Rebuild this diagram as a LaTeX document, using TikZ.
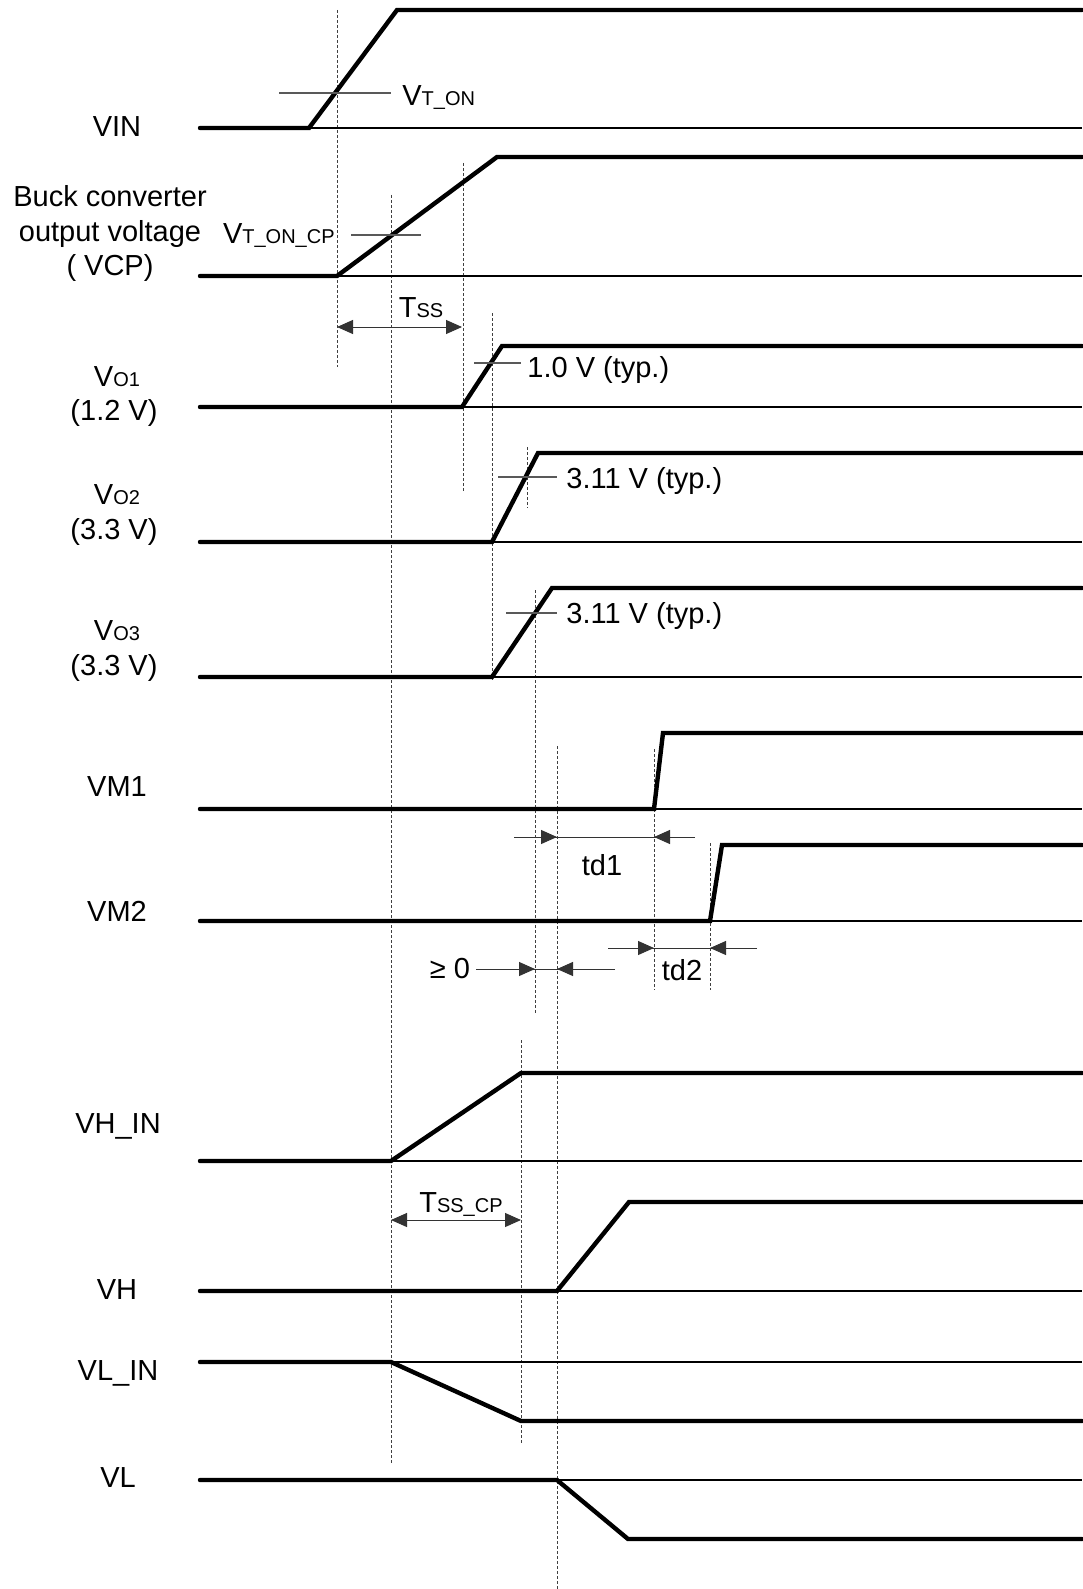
\documentclass[tikz,border=0pt]{standalone}
\usepackage{fontspec}
\setmainfont{Liberation Sans}
\usetikzlibrary{arrows.meta}

\newcommand{\sm}[1]{{\fontsize{10}{12}\selectfont #1}}

\begin{document}
\begin{tikzpicture}[x=0.5pt,y=-0.5pt,
    wave/.style={line width=2.2pt, line cap=round},
    baseln/.style={line width=0.6pt},
    guide/.style={line width=0.45pt, black!75, dash pattern=on 1.5pt off 1pt},
    level/.style={line width=0.6pt, black!65},
    dim/.style={line width=0.5pt, black!80},
    arr/.style={-{Triangle[length=8pt,width=7pt]}},
    twoway/.style={{Triangle[length=8pt,width=7pt]}-{Triangle[length=8pt,width=7pt]}},
    lbl/.style={inner sep=0pt, anchor=base, font=\fontsize{14.5}{17.5}\selectfont}]
    \useasboundingbox (0,0) rectangle (1082,1589);

    \node[lbl] (vin) at (117,137) {VIN};
    \node[lbl] (buck1) at (110,207) {Buck converter};
    \node[lbl] (buck2) at (110,242) {output voltage};
    \node[lbl] (buck3) at (110,276) {( VCP)};
    \node[lbl] (vo1) at (117,386) {V\sm{O1}};
    \node[lbl] (vo1v) at (114,420) {(1.2 V)};
    \node[lbl] (vo2) at (117,504) {V\sm{O2}};
    \node[lbl] (vo2v) at (114,539) {(3.3 V)};
    \node[lbl] (vo3) at (117,640) {V\sm{O3}};
    \node[lbl] (vo3v) at (114,675) {(3.3 V)};
    \node[lbl] (vm1) at (117,796) {VM1};
    \node[lbl] (vm2) at (117,921) {VM2};
    \node[lbl] (vhin) at (118,1133) {VH\_IN};
    \node[lbl] (vh) at (117,1299) {VH};
    \node[lbl] (vlin) at (118,1380) {VL\_IN};
    \node[lbl] (vl) at (118,1487) {VL};

    \draw[guide] (337,10) -- (337,367);
    \draw[guide] (391,195) -- (391,1465);
    \draw[guide] (463,163) -- (463,492);
    \draw[guide] (492,313) -- (492,680);
    \draw[guide] (527,447) -- (527,508);
    \draw[guide] (535,590) -- (535,1013);
    \draw[guide] (557,746) -- (557,1589);
    \draw[guide] (654,749) -- (654,990);
    \draw[guide] (710,843) -- (710,990);
    \draw[guide] (521,1040) -- (521,1445);

    \draw[baseln] (309,128) -- (1082,128);
    \draw[baseln] (337,276) -- (1082,276);
    \draw[baseln] (462,407) -- (1082,407);
    \draw[baseln] (492,542) -- (1082,542);
    \draw[baseln] (492,677) -- (1082,677);
    \draw[baseln] (654,809) -- (1082,809);
    \draw[baseln] (710,921) -- (1082,921);
    \draw[baseln] (391,1161) -- (1082,1161);
    \draw[baseln] (557,1291) -- (1082,1291);
    \draw[baseln] (391,1362) -- (1082,1362);
    \draw[baseln] (557,1480) -- (1082,1480);

    \draw[wave] (200,128) -- (309,128) -- (397,10) -- (1082,10);
    \draw[wave] (200,276) -- (337,276) -- (497,157) -- (1082,157);
    \draw[wave] (200,407) -- (462,407) -- (502,346) -- (1082,346);
    \draw[wave] (200,542) -- (492,542) -- (538,453) -- (1082,453);
    \draw[wave] (200,677) -- (492,677) -- (552,588) -- (1082,588);
    \draw[wave] (200,809) -- (654,809) -- (663,733) -- (1082,733);
    \draw[wave] (200,921) -- (710,921) -- (722,845) -- (1082,845);
    \draw[wave] (200,1161) -- (391,1161) -- (521,1073) -- (1082,1073);
    \draw[wave] (200,1291) -- (557,1291) -- (629,1202) -- (1082,1202);
    \draw[wave] (200,1362) -- (391,1362) -- (521,1421) -- (1082,1421);
    \draw[wave] (200,1480) -- (557,1480) -- (628,1539) -- (1082,1539);

    \draw[level] (279,93) -- (391,93);
    \node[lbl, anchor=base west] (vton) at (402,106) {V\sm{T\_ON}};
    \draw[level] (351,235) -- (421,235);
    \node[lbl, anchor=base east] (vtoncp) at (335,243) {V\sm{T\_ON\_CP}};
    \draw[level] (474,363) -- (521,363);
    \node[lbl, anchor=base west] (th1) at (527,377) {1.0 V (typ.)};
    \draw[level] (498,477) -- (557,477);
    \node[lbl, anchor=base west] (th2) at (566,488) {3.11 V (typ.)};
    \draw[level] (506,613) -- (557,613);
    \node[lbl, anchor=base west] (th3) at (566,623) {3.11 V (typ.)};

    \draw[dim, twoway] (337,327) -- (462,327);
    \node[lbl] (tss) at (421,317) {T\sm{SS}};

    \draw[dim] (514,837) -- (695,837);
    \draw[dim, arr] (514,837) -- (557,837);
    \draw[dim, arr] (695,837) -- (654,837);
    \node[lbl] (td1) at (602,875) {td1};

    \draw[dim] (608,948) -- (757,948);
    \draw[dim, arr] (608,948) -- (654,948);
    \draw[dim, arr] (757,948) -- (710,948);
    \node[lbl] (td2) at (682,980) {td2};

    \draw[dim] (476,969) -- (615,969);
    \draw[dim, arr] (476,969) -- (535,969);
    \draw[dim, arr] (615,969) -- (557,969);
    \node[lbl] (ge0) at (450,978) {≥ 0};

    \draw[dim, twoway] (391,1220) -- (521,1220);
    \node[lbl] (tsscp) at (461,1212) {T\sm{SS\_CP}};
\end{tikzpicture}
\end{document}
